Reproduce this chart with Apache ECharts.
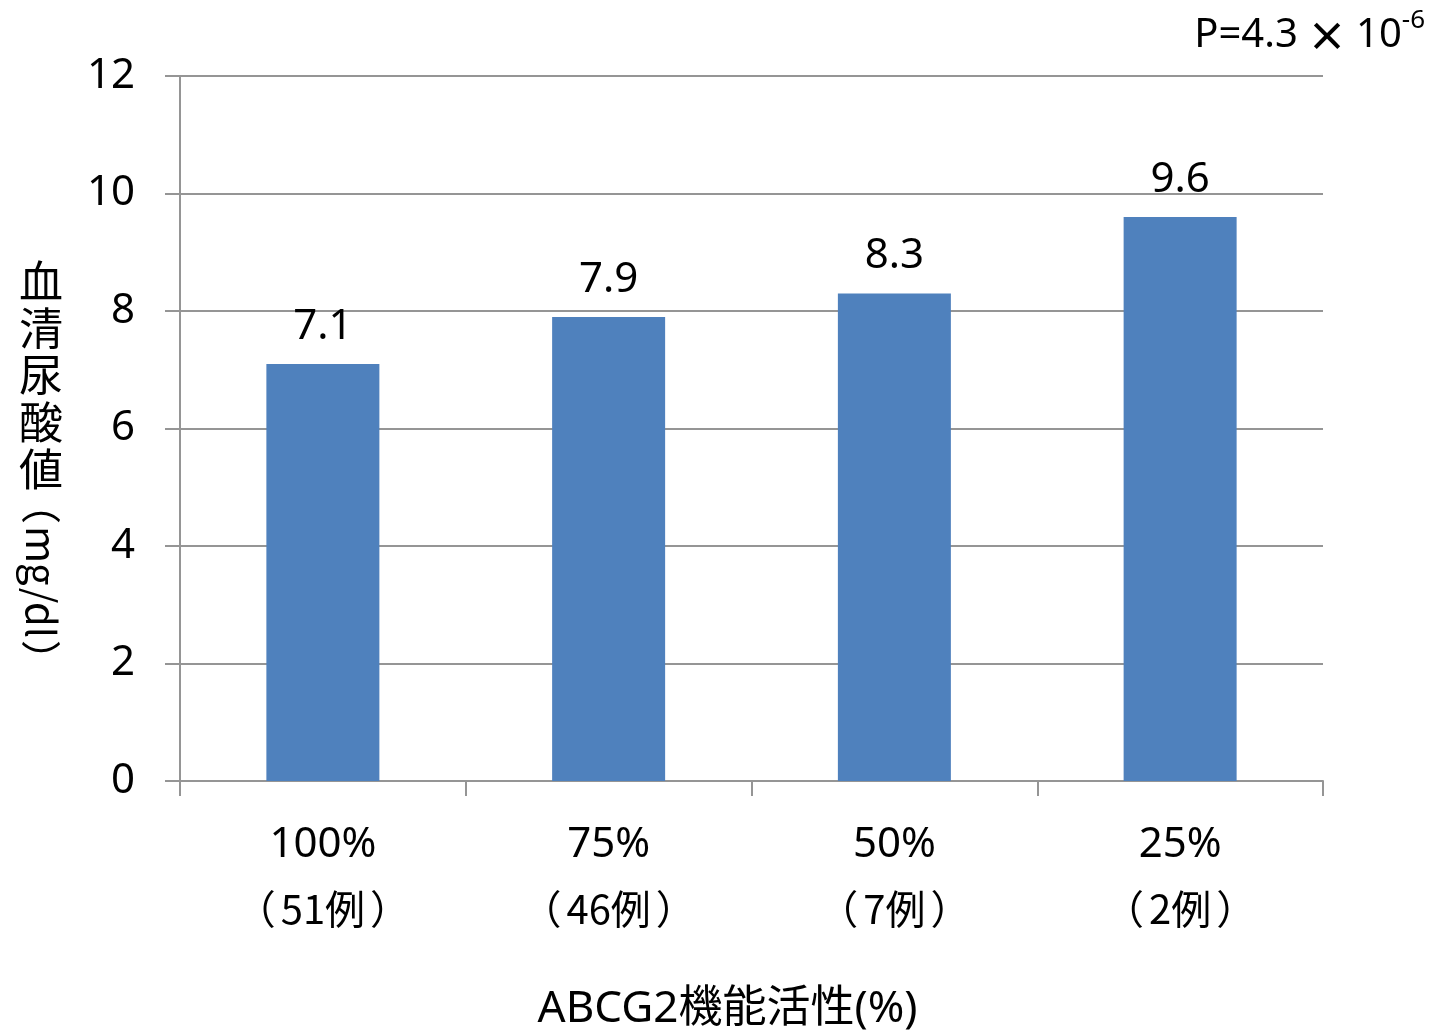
<!DOCTYPE html>
<html>
<head>
<meta charset="utf-8">
<script src="https://cdn.jsdelivr.net/npm/echarts@6/dist/echarts.min.js"></script>
<style>
  html, body { margin: 0; padding: 0; background: #fff; }
  #chart { width: 1431px; height: 1035px; }
</style>
</head>
<body>
<div id="chart"></div>
<script>
// ABCG2 function vs serum uric acid
const activity = ['100%', '75%', '50%', '25%'];
const cases = ['51例', '46例', '7例', '2例'];
const uricAcid = [7.1, 7.9, 8.3, 9.6];
const yTicks = [0, 2, 4, 6, 8, 10, 12];

const FONT = '"Noto Sans", "Noto Sans CJK JP", sans-serif';
const CJK = '"Noto Sans CJK JP", sans-serif';
const GRAY = '#959595';

// full-width parens get a bit of extra room, like the original's font
const categories = activity.map((a, i) =>
  '{a|' + a + '}\n{l|（}{b|' + cases[i] + '}{r|）}');

const chart = echarts.init(document.getElementById('chart'));

chart.setOption({
  backgroundColor: '#fff',
  animation: false,
  grid: { left: 180, right: 108, top: 76, bottom: 254, containLabel: false, outerBoundsMode: 'none' },
  xAxis: {
    type: 'category',
    data: categories,
    name: 'ABCG2機能活性(%)',
    nameLocation: 'middle',
    nameGap: 206,
    nameTextStyle: { fontSize: 44, color: '#000', fontFamily: FONT, padding: [0, 48, 0, 0] },
    axisLine: { lineStyle: { color: GRAY, width: 2 } },
    axisTick: { show: true, length: 15, lineStyle: { color: GRAY, width: 2 } },
    axisLabel: {
      color: '#000',
      margin: 33,
      rich: {
        a: { fontSize: 42, fontFamily: FONT, lineHeight: 63 },
        b: { fontSize: 40, fontFamily: CJK, lineHeight: 63 },
        l: { fontSize: 40, fontFamily: CJK, lineHeight: 63, width: 50, align: 'right' },
        r: { fontSize: 40, fontFamily: CJK, lineHeight: 63, width: 50, align: 'left' }
      }
    }
  },
  yAxis: {
    type: 'value',
    min: yTicks[0],
    max: yTicks[yTicks.length - 1],
    interval: 2,
    axisLine: { show: true, lineStyle: { color: GRAY, width: 2 } },
    axisTick: { show: true, length: 15, lineStyle: { color: GRAY, width: 2 } },
    splitLine: { lineStyle: { color: GRAY, width: 2 } },
    axisLabel: { fontSize: 42, color: '#000', fontFamily: FONT, margin: 45 }
  },
  series: [{
    type: 'bar',
    data: uricAcid,
    barWidth: 113,
    itemStyle: { color: '#4F81BD' },
    label: {
      show: true,
      position: 'top',
      distance: 16,
      fontSize: 42,
      color: '#000',
      fontFamily: FONT,
      formatter: p => p.value.toFixed(1)
    }
  }],
  graphic: [
    {
      type: 'text',
      right: 6,
      top: 8,
      style: {
        text: '{m|P=4.3}{x| × }{m|10}{s|-6}',
        rich: {
          m: { fontSize: 40, fontFamily: FONT, fill: '#000', verticalAlign: 'bottom' },
          x: { fontSize: 40, fontFamily: CJK, fill: '#000', verticalAlign: 'bottom', fontWeight: 'bold' },
          s: { fontSize: 26, fontFamily: FONT, fill: '#000', verticalAlign: 'top', padding: [0, 0, 22, 0] }
        }
      }
    },
    {
      type: 'text',
      x: 41,
      y: 258,
      style: {
        text: '血\n清\n尿\n酸\n値',
        fontSize: 44,
        lineHeight: 47,
        fontFamily: CJK,
        fill: '#000',
        align: 'center',
        verticalAlign: 'top'
      }
    },
    {
      type: 'text',
      x: 41,
      y: 582,
      rotation: -Math.PI / 2,
      style: {
        text: '{p|（}{t|mg/dl}{p|）}',
        align: 'center',
        verticalAlign: 'middle',
        rich: {
          p: { fontSize: 40, fontFamily: CJK, fill: '#000', width: 44, align: 'center' },
          t: { fontSize: 40, fontFamily: CJK, fill: '#000' }
        }
      }
    }
  ]
});
</script>
</body>
</html>
